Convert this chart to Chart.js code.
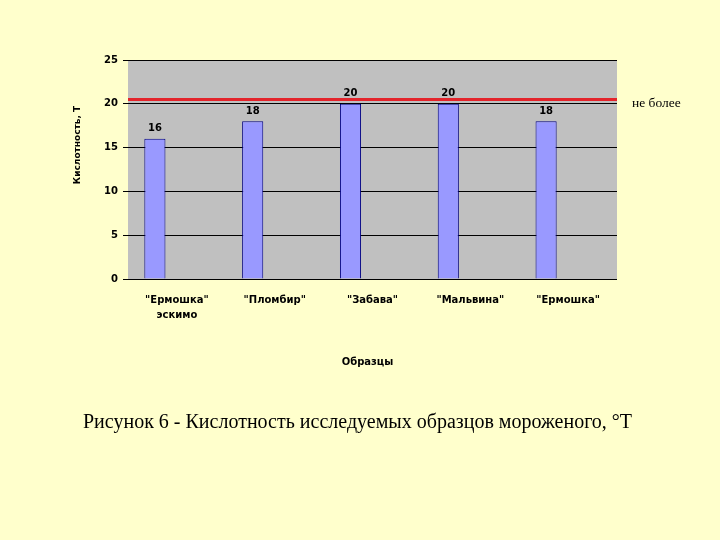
<!DOCTYPE html>
<html>
<head>
<meta charset="utf-8">
<script src="https://cdn.jsdelivr.net/npm/chart.js@4"></script>
<style>
  html, body { margin: 0; padding: 0; background: #FFFFCC; }
  #wrap { width: 720px; height: 540px; position: relative; }
  canvas { display: block; }
</style>
</head>
<body>
<div id="wrap"><canvas id="c" width="720" height="540"></canvas></div>
<script>
const categories = [['"Ермошка"', 'эскимо'], '"Пломбир"', '"Забава"', '"Мальвина"', '"Ермошка"'];
const acidity = [16, 18, 20, 20, 18];
const emptySeries = [null, null, null, null, null];
const limitValue = 20.5;
const limitLabel = 'не более';
const yMin = 0, yMax = 25, yStep = 5;
const yTitle = 'Кислотность, Т';
const xTitle = 'Образцы';
const caption = 'Рисунок 6 - Кислотность исследуемых образцов мороженого, °Т';

const decor = {
  id: 'decor',
  beforeDraw(chart) {
    const { ctx, chartArea: a } = chart;
    ctx.save();
    ctx.fillStyle = '#C0C0C0';
    ctx.fillRect(a.left, a.top, a.right - a.left, a.bottom - a.top);
    ctx.restore();
  },
  afterDatasetsDraw(chart) {
    const { ctx, chartArea: a, scales } = chart;
    ctx.save();
    // limit line
    const yl = scales.y.getPixelForValue(limitValue);
    ctx.strokeStyle = '#E3242B';
    ctx.lineWidth = 3;
    ctx.beginPath();
    ctx.moveTo(a.left, yl);
    ctx.lineTo(a.right, yl);
    ctx.stroke();
    ctx.fillStyle = '#000';
    ctx.font = '13.5px "Liberation Serif"';
    ctx.textAlign = 'left';
    ctx.textBaseline = 'middle';
    ctx.fillText(limitLabel, a.right + 15, yl + 4);
    // data labels
    const meta = chart.getDatasetMeta(0);
    ctx.font = 'bold 10px "DejaVu Sans"';
    ctx.textAlign = 'center';
    ctx.textBaseline = 'middle';
    meta.data.forEach((bar, i) => {
      ctx.fillText(String(acidity[i]), bar.x, bar.y - 10);
    });
    // axis titles
    ctx.font = 'bold 10px "DejaVu Sans"';
    ctx.fillText(xTitle, (a.left + a.right) / 2 - 5, 362);
    ctx.save();
    ctx.translate(78, 145);
    ctx.rotate(-Math.PI / 2);
    ctx.font = 'bold 9px "DejaVu Sans"';
    ctx.fillText(yTitle, 0, 0);
    ctx.restore();
    // caption
    ctx.font = '20px "Liberation Serif"';
    ctx.textAlign = 'left';
    ctx.fillText(caption, 83, 423);
    ctx.restore();
  }
};

new Chart(document.getElementById('c'), {
  type: 'bar',
  data: {
    labels: categories,
    datasets: [
      {
        data: acidity,
        backgroundColor: '#9999FF',
        borderColor: '#000080',
        borderWidth: 1,
        barPercentage: 0.48,
        categoryPercentage: 0.9
      },
      {
        data: emptySeries,
        backgroundColor: '#993366',
        barPercentage: 0.48,
        categoryPercentage: 0.9
      }
    ]
  },
  options: {
    responsive: false,
    animation: false,
    devicePixelRatio: 1,
    layout: { padding: { left: 0, top: 60, right: 103, bottom: 0 } },
    plugins: { legend: { display: false }, tooltip: { enabled: false } },
    scales: {
      x: {
        afterFit(s) { s.height = 261; },
        grid: { display: false, drawTicks: false },
        border: { display: false },
        ticks: {
          color: '#000',
          font: { family: 'DejaVu Sans', size: 10, weight: 'bold', lineHeight: 1.5 },
          padding: 14,
          maxRotation: 0,
          autoSkip: false
        }
      },
      y: {
        min: yMin, max: yMax,
        afterFit(s) { s.width = 128; },
        grid: { color: '#000', lineWidth: 1, drawTicks: true, tickLength: 5 },
        border: { display: false },
        ticks: {
          stepSize: yStep,
          color: '#000',
          padding: 5,
          font: { family: 'DejaVu Sans', size: 10, weight: 'bold' }
        }
      }
    }
  },
  plugins: [decor]
});
</script>
</body>
</html>
